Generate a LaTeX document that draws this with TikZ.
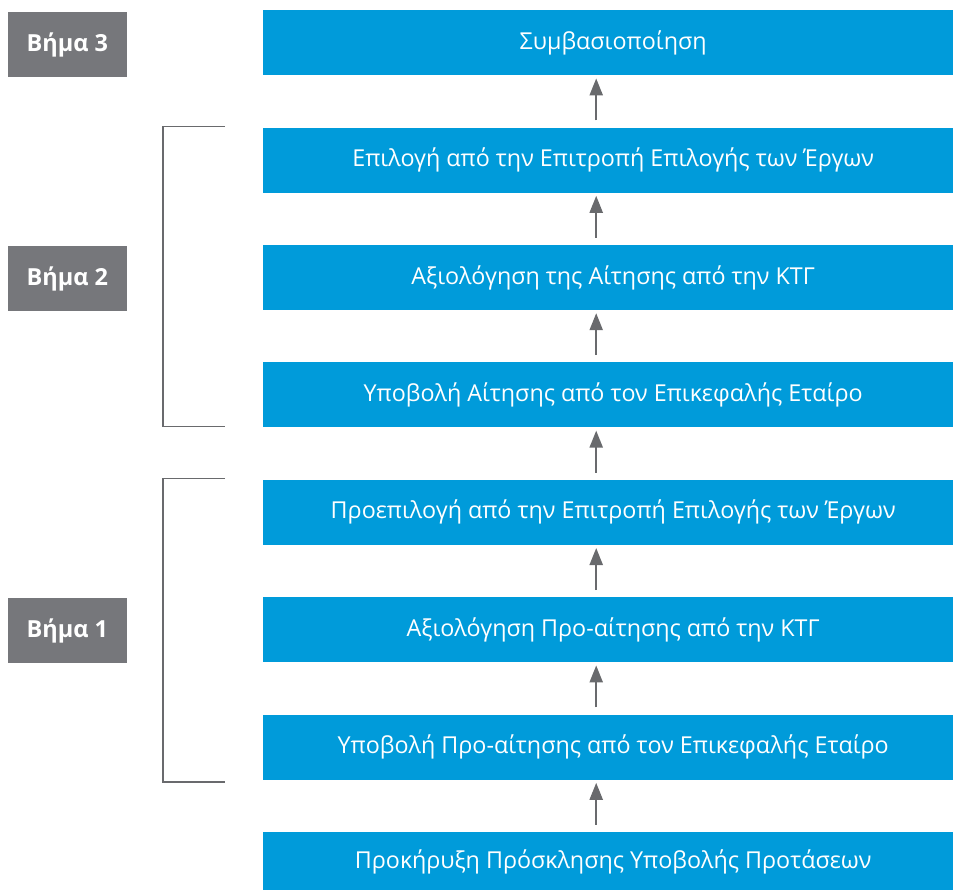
\documentclass[tikz,border=0pt]{standalone}
\usepackage{fontspec}
\setmainfont{Open Sans}
\usetikzlibrary{arrows.meta,positioning}

\definecolor{stageblue}{RGB}{0,155,218}
\definecolor{stepgray}{RGB}{118,119,123}
\definecolor{linegray}{RGB}{105,106,109}

\begin{document}
\begin{tikzpicture}[x=1pt,y=-1pt,>={Triangle[width=13pt,length=17pt]}]
    \tikzstyle{stage}=[rectangle,fill=stageblue,text=white,inner sep=0pt,
    anchor=north west,minimum width=700pt,minimum height=65pt,font=\fontsize{23.3}{27}\selectfont]

    \tikzstyle{stepbox}=[rectangle,fill=stepgray,text=white,inner sep=0pt,
    minimum width=119pt,minimum height=65pt,font=\bfseries\fontsize{23.5}{27}\selectfont]

    \tikzstyle{flow}=[->,draw=linegray,line width=2.2pt,shorten <=7pt,shorten >=3pt]

    \tikzstyle{bracket}=[draw=linegray,line width=1.6pt]

    \useasboundingbox (0,0) rectangle (953,890);

    \node[stage](contract) at (263,10){Συμβασιοποίηση};
    \node[stage](selection)[below=52pt of contract.south west,anchor=north west]{Επιλογή από την Επιτροπή Επιλογής των Έργων};
    \node[stage](evaluation)[below=52pt of selection.south west,anchor=north west]{Αξιολόγηση της Αίτησης από την ΚΤΓ};
    \node[stage](submission)[below=52pt of evaluation.south west,anchor=north west]{Υποβολή Αίτησης από τον Επικεφαλής Εταίρο};
    \node[stage](preselection)[below=52pt of submission.south west,anchor=north west]{Προεπιλογή από την Επιτροπή Επιλογής των Έργων};
    \node[stage](preevaluation)[below=52pt of preselection.south west,anchor=north west]{Αξιολόγηση Προ-αίτησης από την ΚΤΓ};
    \node[stage](presubmission)[below=52pt of preevaluation.south west,anchor=north west]{Υποβολή Προ-αίτησης από τον Επικεφαλής Εταίρο};
    \node[stage,minimum height=60pt](call)[below=52pt of presubmission.south west,anchor=north west]{Προκήρυξη Πρόσκλησης Υποβολής Προτάσεων};

    \node[stepbox](step3)[left=136pt of contract,yshift=-2pt]{Βήμα 3};
    \node[stepbox](step2)[left=136pt of evaluation,yshift=-1pt]{Βήμα 2};
    \node[stepbox](step1)[left=136pt of preevaluation,yshift=-1pt]{Βήμα 1};

    \draw[flow] ([xshift=-17pt]call.north) -- ([xshift=-17pt]presubmission.south);
    \draw[flow] ([xshift=-17pt]presubmission.north) -- ([xshift=-17pt]preevaluation.south);
    \draw[flow] ([xshift=-17pt]preevaluation.north) -- ([xshift=-17pt]preselection.south);
    \draw[flow] ([xshift=-17pt]preselection.north) -- ([xshift=-17pt]submission.south);
    \draw[flow] ([xshift=-17pt]submission.north) -- ([xshift=-17pt]evaluation.south);
    \draw[flow] ([xshift=-17pt]evaluation.north) -- ([xshift=-17pt]selection.south);
    \draw[flow] ([xshift=-17pt]selection.north) -- ([xshift=-17pt]contract.south);

    \draw[bracket] ([xshift=-38pt,yshift=1pt]selection.north west) -| ([xshift=-100pt,yshift=1pt]submission.south west) -- ([xshift=-38pt,yshift=1pt]submission.south west);
    \draw[bracket] ([xshift=-38pt,yshift=1pt]preselection.north west) -| ([xshift=-100pt,yshift=-2pt]presubmission.south west) -- ([xshift=-38pt,yshift=-2pt]presubmission.south west);
  \end{tikzpicture}
\end{document}
